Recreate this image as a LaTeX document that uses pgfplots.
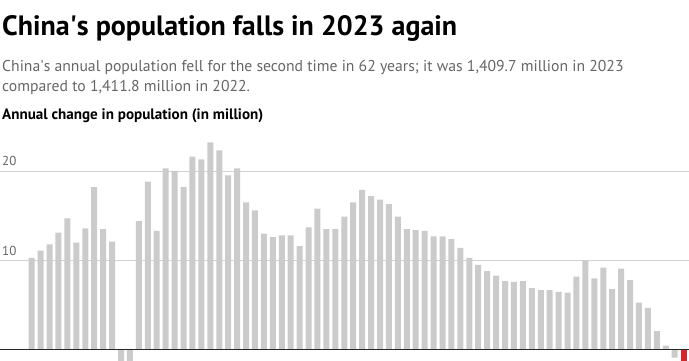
\documentclass[border=0pt]{standalone}
\usepackage{fontspec}
\setmainfont{PT Sans}
\usepackage{pgfplots}
\pgfplotsset{compat=1.18}
\definecolor{bargrey}{HTML}{CBCBCB}
\definecolor{gridgrey}{HTML}{D2D2D2}
\definecolor{subgrey}{HTML}{666666}
\definecolor{barred}{HTML}{D7262B}
\begin{document}
\begin{tikzpicture}[x=1pt,y=1pt]
\useasboundingbox (0,0) rectangle (689,361);
\begin{axis}[
  at={(0,0)}, anchor=south west,
  scale only axis, width=689pt, height=234.75pt,
  xmin=1946.45, xmax=2023.6, ymin=-1.229, ymax=25,
  axis line style={draw=none},
  xtick=\empty, ytick={10,20}, yticklabels={},
  major tick length=0pt,
  ymajorgrids, grid style={gridgrey, line width=0.9pt},
  clip=true,
]
\addplot[ybar, bar shift=0pt, bar width=6pt, fill=bargrey, draw=none] coordinates {
(1950,10.3) (1951,11.1) (1952,11.8) (1953,13.1) (1954,14.7) (1955,12.0) (1956,13.6) (1957,18.2) (1958,13.5) (1959,12.1)
(1960,-10.0) (1961,-3.5) (1962,14.4) (1963,18.8) (1964,13.3) (1965,20.3) (1966,20.0) (1967,18.2) (1968,21.6) (1969,21.3)
(1970,23.2) (1971,22.3) (1972,19.5) (1973,20.3) (1974,16.5) (1975,15.6) (1976,13.0) (1977,12.6) (1978,12.8) (1979,12.8)
(1980,11.6) (1981,13.7) (1982,15.8) (1983,13.5) (1984,13.5) (1985,14.9) (1986,16.5) (1987,17.9) (1988,17.2) (1989,16.8)
(1990,16.3) (1991,14.9) (1992,13.5) (1993,13.4) (1994,13.3) (1995,12.7) (1996,12.7) (1997,12.4) (1998,11.4) (1999,10.3)
(2000,9.5) (2001,8.8) (2002,8.3) (2003,7.7) (2004,7.6) (2005,7.7) (2006,6.9) (2007,6.7) (2008,6.7) (2009,6.5)
(2010,6.4) (2011,8.2) (2012,10.0) (2013,8.0) (2014,9.2) (2015,6.8) (2016,9.1) (2017,7.8) (2018,5.3) (2019,4.7)
(2020,2.1) (2021,0.5) (2022,-0.85)
};
\addplot[ybar, bar shift=0pt, bar width=6pt, fill=barred, draw=none] coordinates {(2023,-2.08)};
\draw[black!85, line width=1pt] (axis cs:1946.45,0) -- (axis cs:2023.6,0);
\node[anchor=base west, inner sep=0pt, text=subgrey, font=\fontsize{13}{13}\selectfont, xshift=2pt, yshift=5pt] at (axis cs:1946.45,20) {20};
\node[anchor=base west, inner sep=0pt, text=subgrey, font=\fontsize{13}{13}\selectfont, xshift=2pt, yshift=5pt] at (axis cs:1946.45,10) {10};
\end{axis}
\node[anchor=base west, inner sep=0pt, font=\fontsize{28}{28}\selectfont\bfseries] at (2,325) {China\textquotesingle s population falls in 2023 again};
\node[anchor=base west, inner sep=0pt, text=subgrey, font=\fontsize{15.7}{15.7}\selectfont] at (2,289) {China\textquotesingle s annual population fell for the second time in 62 years; it was 1,409.7 million in 2023};
\node[anchor=base west, inner sep=0pt, text=subgrey, font=\fontsize{15.7}{15.7}\selectfont] at (2,269) {compared to 1,411.8 million in 2022.};
\node[anchor=base west, inner sep=0pt, font=\fontsize{15.1}{15.1}\selectfont\bfseries] at (2,241.7) {Annual change in population (in million)};
\end{tikzpicture}
\end{document}
